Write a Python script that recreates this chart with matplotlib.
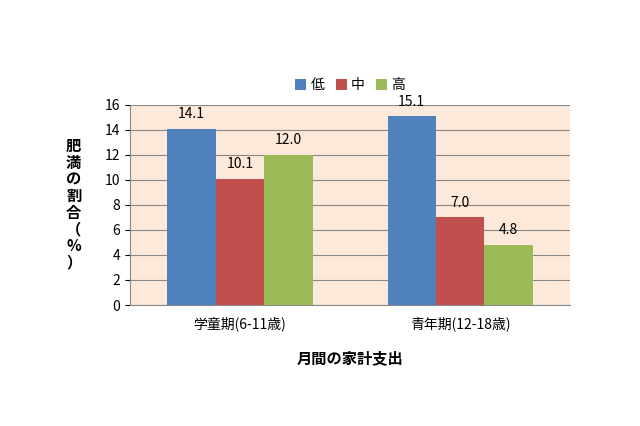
import matplotlib.pyplot as plt
import numpy as np

plt.rcParams["font.family"] = "Noto Sans CJK JP"

categories = ["学童期(6-11歳)", "青年期(12-18歳)"]
series = ["低", "中", "高"]
low = [14.1, 15.1]
mid = [10.1, 7.0]
high = [12.0, 4.8]
colors = ["#4f81bd", "#c0504d", "#9bbb59"]

fig = plt.figure(figsize=(6.4, 4.26), dpi=100)
ax = fig.add_axes([0.203, 0.284, 0.688, 0.47])
ax.set_facecolor("#fde9d9")

x = np.arange(len(categories)) + 0.5
w = 0.22
for i, (vals, name) in enumerate(zip([low, mid, high], series)):
    bars = ax.bar(x + (i - 1) * w, vals, w, color=colors[i], label=name, zorder=3)
    for b, v in zip(bars, vals):
        ax.text(b.get_x() + b.get_width() / 2, v + 0.6, f"{v:.1f}",
                ha="center", va="bottom", fontsize=10)

ax.set_xlim(0, 2)
ax.set_ylim(0, 16)
ax.set_yticks(range(0, 17, 2))
ax.yaxis.grid(True, color="#888888", linewidth=0.8, zorder=0)
ax.set_xticks(x)
ax.set_xticklabels(categories, fontsize=10)
ax.tick_params(axis="y", labelsize=10)
ax.tick_params(axis="x", length=0, pad=8)
for s in ["top", "right"]:
    ax.spines[s].set_visible(False)
ax.spines["left"].set_color("#888888")
ax.spines["bottom"].set_color("#888888")

ax.set_xlabel("月間の家計支出", fontsize=11, fontweight="bold", labelpad=14)
fig.text(0.115, 0.52, "肥\n満\nの\n割\n合\n（\n%\n）", ha="center", va="center",
         fontsize=11, fontweight="bold", linespacing=1.05)

ax.legend(loc="lower center", bbox_to_anchor=(0.5, 1.0), ncol=3, frameon=False,
          fontsize=10, handlelength=0.8, handleheight=0.8, columnspacing=0.8,
          handletextpad=0.3)

fig.savefig("out.png", dpi=100)
